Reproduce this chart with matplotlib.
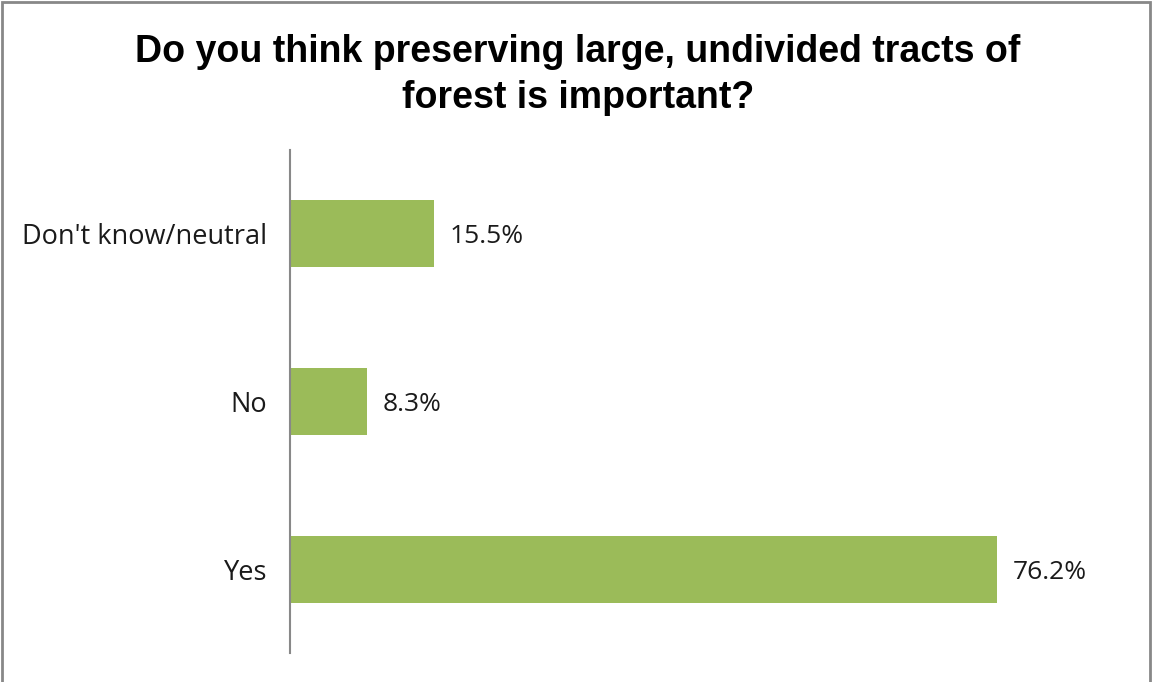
import matplotlib
matplotlib.use("Agg")
import matplotlib.pyplot as plt
from matplotlib.patches import Rectangle

categories = ["Yes", "No", "Don't know/neutral"]
values = [76.2, 8.3, 15.5]
value_labels = ["76.2%", "8.3%", "15.5%"]
title = "Do you think preserving large, undivided tracts of\nforest is important?"

W, H = 1153, 682
fig = plt.figure(figsize=(W / 100, H / 100), dpi=100)
ax = fig.add_axes([290 / W, (H - 653) / H, (1125 - 290) / W, (653 - 150) / H])

ypos = list(range(len(categories)))
ax.barh(ypos, values, height=0.4, color="#9BBB59")
ax.set_xlim(0, 90)
ax.set_ylim(-0.5, len(categories) - 0.5)
ax.set_yticks(ypos)
ax.set_yticklabels(categories, fontsize=19.5, family="Open Sans", color="#1a1a1a")
ax.tick_params(axis="y", length=0, pad=16.5)
ax.set_xticks([])
for s in ["top", "right", "bottom"]:
    ax.spines[s].set_visible(False)
ax.spines["left"].set_color("#888888")
ax.spines["left"].set_linewidth(1.5)

for y, v, lab in zip(ypos, values, value_labels):
    ax.text(v + 1.7, y, lab, va="center_baseline", ha="left", fontsize=19,
            family="Open Sans", color="#1a1a1a")

fig.text(578 / W, 1 - 75 / H, title, ha="center", va="center", fontsize=27,
         fontweight="bold", family="Liberation Sans", linespacing=1.33, color="black")

fig.patches.append(Rectangle((1.5 / W, -0.01), (W - 5) / W, 1 - 1.5 / H + 0.01,
                             transform=fig.transFigure, fill=False,
                             edgecolor="#888888", linewidth=2))

fig.savefig("out.png", dpi=100)
